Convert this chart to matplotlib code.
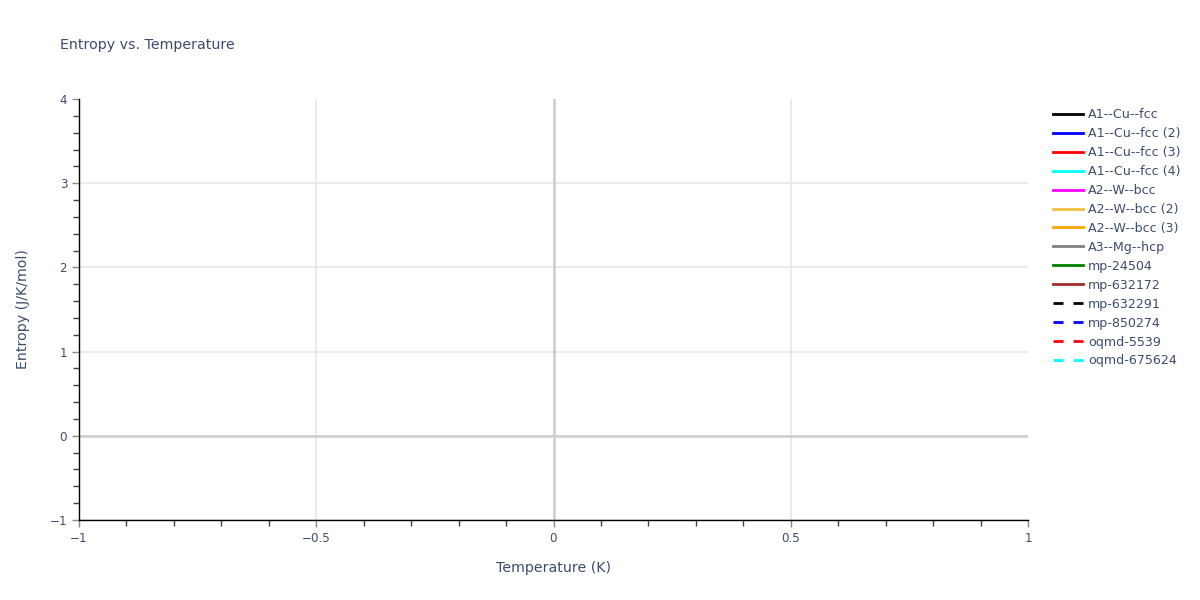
import numpy as np
import matplotlib.pyplot as plt
from matplotlib.ticker import MultipleLocator

plt.rcParams['font.family'] = ['DejaVu Sans']

# series in the legend (the traces carry no data points)
series_names = [
    "A1--Cu--fcc", "A1--Cu--fcc (2)", "A1--Cu--fcc (3)", "A1--Cu--fcc (4)",
    "A2--W--bcc", "A2--W--bcc (2)", "A2--W--bcc (3)", "A3--Mg--hcp",
    "mp-24504", "mp-632172", "mp-632291", "mp-850274", "oqmd-5539", "oqmd-675624",
]
series_temps = [[] for _ in series_names]
series_entropy = [[] for _ in series_names]

series_colors = [
    "black", "blue", "red", "cyan", "magenta", "#f0c040", "orange", "gray",
    "green", "brown", "black", "blue", "red", "cyan",
]
series_dash = ["-"] * 10 + ["--"] * 4

x_ticks = [-1, -0.5, 0, 0.5, 1]
y_ticks = [-1, 0, 1, 2, 3, 4]

text_col = "#3c4d6b"
fig = plt.figure(figsize=(12, 6), dpi=100)
ax = fig.add_axes([79 / 1200, 80 / 600, (1028 - 79) / 1200, (520 - 99) / 600])

for name, xs, ys, c, ls in zip(series_names, series_temps, series_entropy,
                               series_colors, series_dash):
    ax.plot(xs, ys, color=c, linestyle=ls, linewidth=2, label=name,
            dashes=(3.6, 3.6) if ls == "--" else (None, None))

ax.set_xlim(-1, 1)
ax.set_ylim(-1, 4)
ax.set_xticks(x_ticks)
ax.set_yticks(y_ticks)
ax.set_xticklabels(["\u22121", "\u22120.5", "0", "0.5", "1"])
ax.set_yticklabels(["\u22121", "0", "1", "2", "3", "4"])
ax.xaxis.set_minor_locator(MultipleLocator(0.1))
ax.yaxis.set_minor_locator(MultipleLocator(0.2))

ax.grid(True, which="major", color="#e8e8e8", linewidth=1.2)
# no grid line on the outer edges (top and right)
ax.get_xgridlines()[-1].set_visible(False)
ax.get_ygridlines()[-1].set_visible(False)
ax.axhline(0, color="#d0d0d0", linewidth=2, zorder=1)
ax.axvline(0, color="#d0d0d0", linewidth=2, zorder=1)
ax.set_axisbelow(True)

for side in ("top", "right"):
    ax.spines[side].set_visible(False)
for side in ("left", "bottom"):
    ax.spines[side].set_color("black")
    ax.spines[side].set_linewidth(1)

ax.tick_params(which="major", length=5, width=1, color="#888888",
               labelcolor=text_col, labelsize=8.6)
ax.tick_params(which="minor", length=4, width=1, color="#444444")

ax.set_xlabel("Temperature (K)", fontsize=10.2, color=text_col, labelpad=12)
ax.set_ylabel("Entropy (J/K/mol)", fontsize=10.2, color=text_col, labelpad=14)
fig.text(60 / 1200, 1 - 45 / 600, "Entropy vs. Temperature", fontsize=10.15,
         color=text_col, va="center")

leg = ax.legend(loc="upper left", bbox_to_anchor=(1.0207, 0.99), frameon=False,
                fontsize=9.1, labelcolor=text_col, handlelength=2.4,
                handletextpad=0.4, labelspacing=0.47, borderaxespad=0)

fig.savefig("out.png", dpi=100)
